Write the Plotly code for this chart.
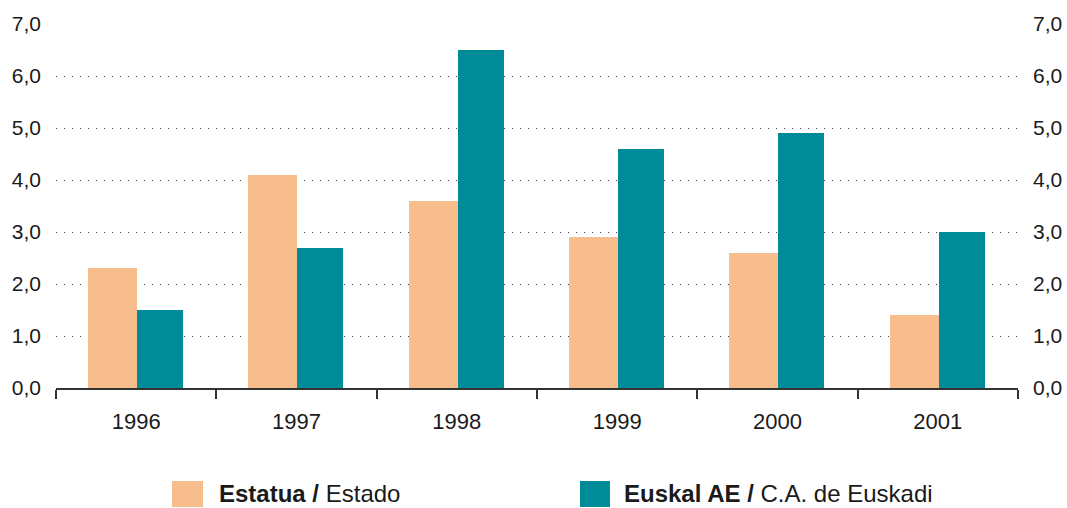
import plotly.graph_objects as go

years = ["1996", "1997", "1998", "1999", "2000", "2001"]
estatua = [2.3, 4.1, 3.6, 2.9, 2.6, 1.4]
euskal = [1.5, 2.7, 6.5, 4.6, 4.9, 3.0]
y_ticks = [0, 1, 2, 3, 4, 5, 6, 7]

ORANGE = "#F8BD8C"
TEAL = "#008B99"
FONT = "Liberation Sans, Arial, sans-serif"

fig = go.Figure()
fig.add_trace(go.Bar(x=years, y=estatua, marker=dict(color=ORANGE, line=dict(width=0)),
                     width=0.306, offset=-0.30, name="Estatua / Estado", showlegend=False))
fig.add_trace(go.Bar(x=years, y=euskal, marker=dict(color=TEAL, line=dict(width=0)),
                     width=0.287, offset=0.006, name="Euskal AE / C.A. de Euskadi", showlegend=False))
# invisible trace for right axis
fig.add_trace(go.Scatter(x=years, y=euskal, yaxis="y2", mode="markers",
                         marker=dict(opacity=0), hoverinfo="skip", showlegend=False))

fig.update_layout(
    width=1067, height=508,
    margin=dict(l=56, r=49, t=24, b=120, autoexpand=False),
    paper_bgcolor="white", plot_bgcolor="white",
    separators=",.",
    barmode="overlay",
    font=dict(family=FONT, size=22, color="#1a1a1a"),
    xaxis=dict(
        type="category", tickson="boundaries", ticks="outside", ticklen=9, tickwidth=2,
        tickcolor="#333", showline=True, linecolor="#333", linewidth=2,
        showgrid=False, ticklabelstandoff=13, tickfont=dict(size=22, color="#1a1a1a"),
        range=[-0.5, 5.5],
    ),
    yaxis=dict(
        range=[0, 7], tickvals=y_ticks, tickformat=".1f", showgrid=True,
        gridcolor="#444", gridwidth=1, griddash="1px,7px", zeroline=False,
        ticks="", ticklabelstandoff=14, tickfont=dict(size=21, color="#1a1a1a"),
        showline=False,
    ),
    yaxis2=dict(
        range=[0, 7], tickvals=y_ticks, tickformat=".1f", overlaying="y", side="right",
        showgrid=False, zeroline=False, ticks="", ticklabelstandoff=14,
        tickfont=dict(size=21, color="#1a1a1a"), showline=False,
    ),
    bargap=0,
)

# manual legend
shapes = [
    dict(type="rect", xref="paper", yref="paper", x0=0.1206, x1=0.1528, y0=-0.327, y1=-0.2555,
         fillcolor=ORANGE, line=dict(width=0)),
    dict(type="rect", xref="paper", yref="paper", x0=0.5447, x1=0.5759, y0=-0.327, y1=-0.2555,
         fillcolor=TEAL, line=dict(width=0)),
]
fig.update_layout(shapes=shapes)
fig.add_annotation(xref="paper", yref="paper", x=0.1674, y=-0.291, xanchor="left", yanchor="middle",
                   text="<b>Estatua /</b> Estado", showarrow=False, font=dict(size=24, color="#1a1a1a"))
fig.add_annotation(xref="paper", yref="paper", x=0.5884, y=-0.291, xanchor="left", yanchor="middle",
                   text="<b>Euskal AE /</b> C.A. de Euskadi", showarrow=False, font=dict(size=24, color="#1a1a1a"))

fig.write_html("out.html", config={"displayModeBar": False},
               post_script="document.body.style.margin='0px';document.body.style.overflow='hidden';")
